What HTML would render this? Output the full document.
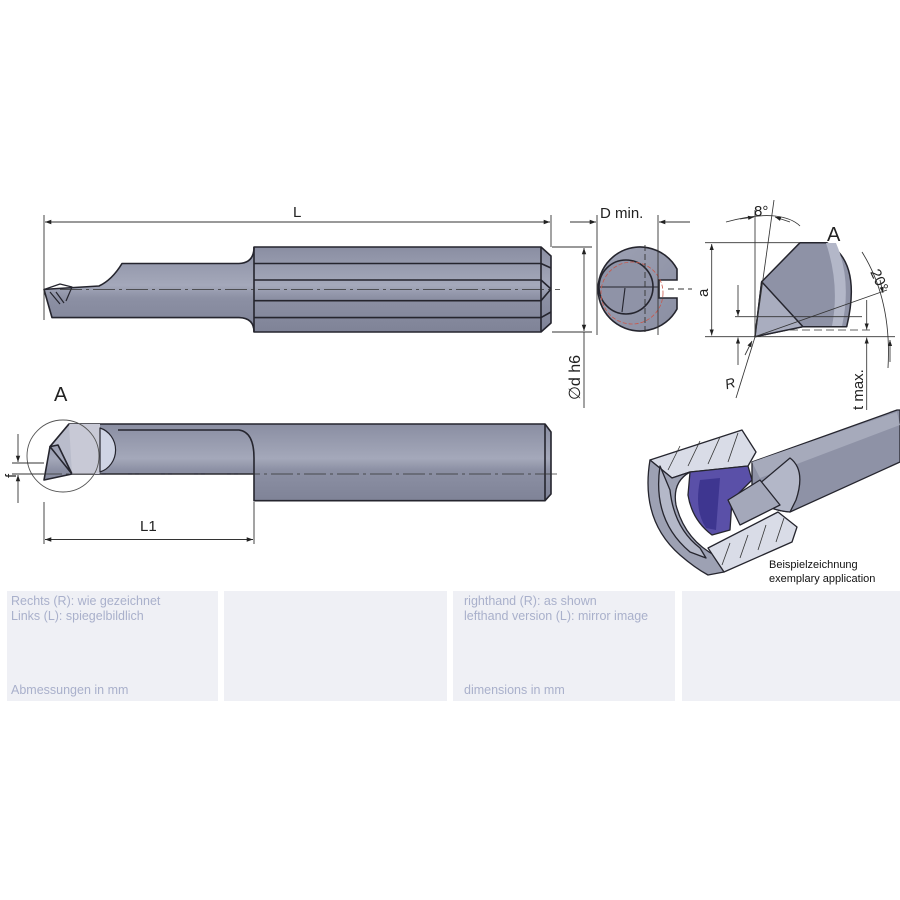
<!DOCTYPE html>
<html><head><meta charset="utf-8"><style>
html,body{margin:0;padding:0;background:#fff;width:900px;height:900px;overflow:hidden}
svg{display:block}
.t{font-family:"Liberation Sans",sans-serif;fill:#222}
.p{font-family:"Liberation Sans",sans-serif;fill:#a9b0cb;font-size:12.5px}
</style></head><body>
<svg width="900" height="900" viewBox="0 0 900 900" xmlns="http://www.w3.org/2000/svg">
<defs>
<marker id="ar" viewBox="0 0 10 10" refX="10" refY="5" markerWidth="9" markerHeight="7" orient="auto-start-reverse"><path d="M0,1.5 L10,5 L0,8.5z" fill="#222"/></marker>
<linearGradient id="g1" x1="0" y1="0" x2="0" y2="1"><stop offset="0" stop-color="#8a8ea2"/><stop offset=".45" stop-color="#a4a8ba"/><stop offset=".6" stop-color="#8c90a4"/><stop offset="1" stop-color="#7f8397"/></linearGradient>
<linearGradient id="g2" x1="0" y1="0" x2="1" y2="1"><stop offset="0" stop-color="#9ea2b4"/><stop offset="1" stop-color="#8a8ea2"/></linearGradient>
</defs>

<g fill="#eff0f5">
<rect x="7" y="591" width="211" height="110"/>
<rect x="224" y="591" width="223" height="110"/>
<rect x="453" y="591" width="222" height="110"/>
<rect x="682" y="591" width="218" height="110"/>
</g>
<text class="p" x="11" y="605">Rechts (R): wie gezeichnet</text>
<text class="p" x="11" y="620">Links (L): spiegelbildlich</text>
<text class="p" x="11" y="694">Abmessungen in mm</text>
<text class="p" x="464" y="605">righthand (R): as shown</text>
<text class="p" x="464" y="620">lefthand version (L): mirror image</text>
<text class="p" x="464" y="694">dimensions in mm</text>

<!-- top tool -->
<g stroke="#25252e" stroke-width="1.6" stroke-linejoin="round">
<path d="M254,247 L541,247 L551,256 L551,323 L541,332 L254,332 Q254,318 239,317.6 L52,317.6 L44,289.5 L50,289 L99,286 Q112,280 122,263.5 L239,263.5 Q254,263 254,247 Z" fill="url(#g1)"/>
<path d="M254,263.5 L541,263.5 L551,268 M254,280 L541,280 L551,289 M254,300.7 L541,300.7 L551,289 M254,317.6 L541,317.6 L551,312" fill="none"/>
<path d="M541,247 L541,332 M254,247 L254,332" fill="none"/>
<path d="M44,289.5 L60,284 L72,287 L66,301 M50,292 L60,304 M56,292 L64,303" fill="none" stroke-width="1.2"/>
</g>
<line x1="60" y1="289.5" x2="560" y2="289.5" stroke="#333" stroke-width=".8" stroke-dasharray="22,4,3,4"/>

<!-- bottom tool -->
<g stroke="#25252e" stroke-width="1.6" stroke-linejoin="round">
<path d="M69,424 L545,424 L551,432 L551,494 L545,500.7 L254,500.7 L254,474 L72,474 L44,480 L50,446.6 Z" fill="url(#g1)"/>
<path d="M118,430 L239,430 Q254,432 254,458 L254,474" fill="none"/>
<path d="M545,424 L545,500.7" fill="none"/>
<path d="M69,424 L100,424 L100,474 L72,474 L58,445 Z" fill="#c8c9d6" stroke="none"/>
<path d="M69,424 L50,446.6 L72,474 M50,446.6 L58,445 L72,474" fill="#b9bccb"/>
<path d="M100,428 A22,23 0 0 1 100,472 Z" fill="#cfd4e4" stroke-width="1.2"/>
</g>
<line x1="40" y1="474" x2="560" y2="474" stroke="#333" stroke-width=".8" stroke-dasharray="22,4,3,4"/>
<circle cx="63" cy="456" r="36" fill="none" stroke="#555" stroke-width=".9"/>
<text class="t" x="54" y="401" font-size="20">A</text>

<g stroke="#333" stroke-width=".9" fill="none">
<line x1="44" y1="215" x2="44" y2="320"/>
<line x1="551" y1="215" x2="551" y2="247"/>
<line x1="45" y1="222" x2="550" y2="222" marker-start="url(#ar)" marker-end="url(#ar)"/>
<line x1="552" y1="247" x2="592" y2="247"/><line x1="552" y1="332" x2="592" y2="332"/>
<line x1="584" y1="248" x2="584" y2="331" marker-start="url(#ar)" marker-end="url(#ar)"/>
<line x1="584" y1="332" x2="584" y2="408"/>
<line x1="44" y1="502" x2="44" y2="544"/><line x1="254" y1="502" x2="254" y2="544"/>
<line x1="45" y1="539.5" x2="253" y2="539.5" marker-start="url(#ar)" marker-end="url(#ar)"/>
<line x1="12" y1="463" x2="44" y2="463"/><line x1="12" y1="474" x2="44" y2="474"/>
<line x1="18" y1="434" x2="18" y2="462" marker-end="url(#ar)"/>
<line x1="18" y1="503" x2="18" y2="475" marker-end="url(#ar)"/>
</g>
<text class="t" x="293" y="217" font-size="15">L</text>
<text class="t" x="140" y="531" font-size="15">L1</text>
<text class="t" x="0" y="0" font-size="15" transform="translate(16,478) rotate(-90)">f</text>
<text class="t" x="0" y="0" font-size="16" transform="translate(580,400) rotate(-90)">∅d h6</text>

<!-- end view -->
<g stroke="#25252e" stroke-width="1.6">
<path d="M677,269 A42,42 0 1 0 677,309 L677,298 L659,298 L659,280 L677,280 Z" fill="url(#g2)"/>
<circle cx="626" cy="287" r="27" fill="#8f93a7"/>
<path d="M600,287 L659,287 M625,288 L622,312" fill="none" stroke-width="1.1"/>
<circle cx="632" cy="293" r="31" fill="none" stroke="#c9574a" stroke-width=".8" stroke-dasharray="4,2"/>
</g>
<g stroke="#333" stroke-width=".9" fill="none">
<line x1="597" y1="215" x2="597" y2="335"/><line x1="658" y1="215" x2="658" y2="335"/>
<line x1="645" y1="245" x2="645" y2="335" stroke-dasharray="6,3"/>
<line x1="570" y1="222" x2="596" y2="222" marker-end="url(#ar)"/>
<line x1="690" y1="222" x2="659" y2="222" marker-end="url(#ar)"/>
<line x1="668" y1="289" x2="692" y2="289" stroke-dasharray="6,4"/>
</g>
<text class="t" x="600" y="218" font-size="15">D min.</text>
<text class="t" x="0" y="0" font-size="15" transform="translate(708,297) rotate(-90)">a</text>

<!-- detail A -->
<g stroke="#25252e" stroke-width="1.5" stroke-linejoin="round">
<path d="M800,242.7 L826.7,242.7 Q862,262 846.7,326.7 L803,326.7 L755,336.7 L761.7,281.7 Z" fill="#8e92a6"/>
<path d="M826,243 L836,243 Q852,280 842,326 L832,326 Q840,285 826,243Z" fill="#b3b7c8" stroke="none"/>
<path d="M761.7,281.7 L803,326.7 M761.7,281.7 L755,336.7 L803,326.7" fill="#a9adbf"/>
</g>
<g stroke="#333" stroke-width=".85" fill="none">
<line x1="705" y1="242.7" x2="800" y2="242.7"/>
<line x1="705" y1="336.7" x2="895" y2="336.7"/>
<line x1="711.7" y1="244" x2="711.7" y2="335.5" marker-start="url(#ar)" marker-end="url(#ar)"/>
<line x1="735" y1="316.7" x2="862" y2="316.7"/>
<line x1="790" y1="330" x2="872" y2="330" stroke-dasharray="8,4"/>
<line x1="738" y1="285" x2="738" y2="316" marker-end="url(#ar)"/>
<line x1="738" y1="365" x2="738" y2="337.5" marker-end="url(#ar)"/>
<line x1="866.7" y1="300" x2="866.7" y2="329.5" marker-end="url(#ar)"/>
<line x1="866.7" y1="410" x2="866.7" y2="337.5" marker-end="url(#ar)"/>
<line x1="755" y1="336.7" x2="755" y2="210"/>
<line x1="755" y1="336.7" x2="774" y2="200"/>
<path d="M726,222 Q755,214 775,216 Q792,218 800,226"/>
<line x1="740" y1="219" x2="754" y2="217" marker-end="url(#ar)"/>
<line x1="790" y1="222" x2="775" y2="217" marker-end="url(#ar)"/>
<line x1="755" y1="336.7" x2="887" y2="290"/>
<path d="M862,252 Q892,300 888,368"/>
<line x1="880" y1="280" x2="883" y2="293" marker-end="url(#ar)"/>
<line x1="890" y1="362" x2="890" y2="340" marker-end="url(#ar)"/>
<line x1="755" y1="337" x2="736" y2="398"/>
<line x1="745" y1="355" x2="752" y2="341" marker-end="url(#ar)"/>
</g>
<text class="t" x="754" y="216" font-size="15">8°</text>
<text class="t" x="827" y="241" font-size="20">A</text>
<text class="t" x="0" y="0" font-size="15" transform="translate(870,272) rotate(65)">20°</text>
<text class="t" x="0" y="0" font-size="15" transform="translate(863,410) rotate(-90)">t max.</text>
<text class="t" x="725" y="388" font-size="14" font-style="italic" transform="rotate(-15 731 383)">R</text>

<!-- application -->
<g stroke="#25252e" stroke-width="1.3" stroke-linejoin="round">
<path d="M752,462 L897,410 L900,410 L900,462 L790,512 Q762,510 752,490 Z" fill="#8e92a6"/>
<path d="M752,462 L897,412 L900,425 L760,478 Z" fill="#a6aabb" stroke="none"/>
<path d="M790,458 Q806,470 796,500 L790,512 Q762,510 752,490 Z" fill="#b3b7c8"/>
<path d="M650,460 L742,430 L756,452 L748,466 L690,472 L672,478 Z" fill="#d9dce7"/>
<path d="M650,460 Q640,520 680,555 Q695,568 708,575 L724,572 L716,556 Q685,540 676,505 Q672,482 690,472 L672,478 Z" fill="#9da1b3"/>
<path d="M660,466 Q652,520 690,552 L706,558 L700,548 Q674,528 670,490 Z" fill="#b4b8c8"/>
<path d="M690,472 L748,466 L752,480 L732,500 L730,530 L712,535 Q692,520 688,495 Z" fill="#5a50a8"/>
<path d="M700,480 L720,478 L716,530 L706,528 Q694,510 700,480Z" fill="#3e3690" stroke="none"/>
<path d="M728,500 L760,480 L780,505 L740,525 Z" fill="#a4a8ba"/>
<path d="M708,548 L778,512 L797,527 L792,542 L724,572 Z" fill="#d9dce7"/>
</g>
<g stroke="#333" stroke-width=".8">
<line x1="668" y1="470" x2="680" y2="446"/><line x1="688" y1="466" x2="700" y2="441"/>
<line x1="708" y1="464" x2="720" y2="437"/><line x1="728" y1="462" x2="738" y2="433"/>
<line x1="722" y1="565" x2="730" y2="543"/><line x1="740" y1="558" x2="748" y2="535"/>
<line x1="758" y1="550" x2="766" y2="525"/><line x1="776" y1="542" x2="784" y2="518"/>
</g>
<text x="769" y="568" font-family="Liberation Sans,sans-serif" font-size="11" fill="#111">Beispielzeichnung</text>
<text x="769" y="582" font-family="Liberation Sans,sans-serif" font-size="11" fill="#111">exemplary application</text>
</svg>
</body></html>
